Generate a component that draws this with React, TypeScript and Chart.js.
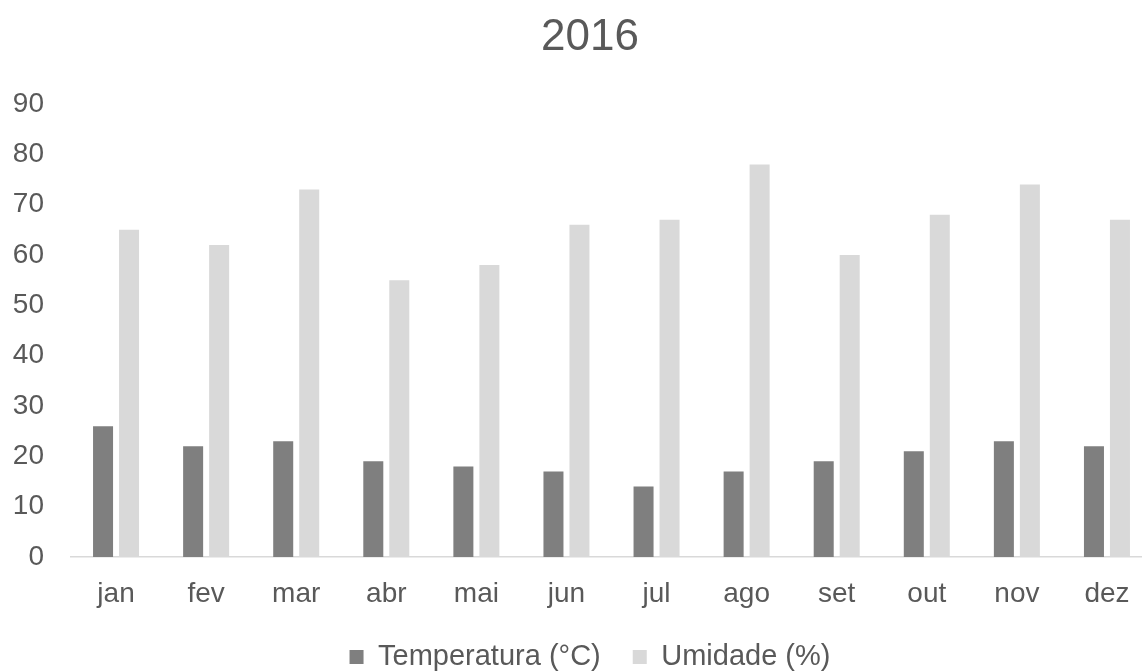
import React, { useEffect, useRef } from "react";
import { Chart, registerables } from "chart.js";

Chart.register(...registerables);

const months = ["jan", "fev", "mar", "abr", "mai", "jun", "jul", "ago", "set", "out", "nov", "dez"];
const temperatura = [26, 22, 23, 19, 18, 17, 14, 17, 19, 21, 23, 22];
const umidade = [65, 62, 73, 55, 58, 66, 67, 78, 60, 68, 74, 67];
const yTicks = [0, 10, 20, 30, 40, 50, 60, 70, 80, 90];

const FONT = "'Liberation Sans', Arial, sans-serif";
const TEXT = "#595959";

export default function App() {
  const ref = useRef<HTMLCanvasElement | null>(null);

  useEffect(() => {
    if (!ref.current) return;
    const chart = new Chart(ref.current, {
      type: "bar",
      data: {
        labels: months,
        datasets: [
          {
            label: "Temperatura (°C)",
            data: temperatura,
            backgroundColor: "#7f7f7f",
            borderColor: "#7f7f7f",
            borderWidth: 0,
            categoryPercentage: 0.577,
            barPercentage: 0.77,
          },
          {
            label: "Umidade (%)",
            data: umidade,
            backgroundColor: "#d9d9d9",
            borderColor: "#d9d9d9",
            borderWidth: 0,
            categoryPercentage: 0.577,
            barPercentage: 0.77,
          },
        ],
      },
      options: {
        animation: false,
        responsive: true,
        maintainAspectRatio: false,
        layout: { padding: { top: 0, left: 0, right: 0, bottom: -10.6 } },
        plugins: {
          title: {
            display: true,
            text: "2016",
            color: TEXT,
            font: { family: FONT, size: 44, weight: "normal" },
            padding: { top: 11, bottom: 40.2 },
          },
          legend: {
            position: "bottom",
            labels: {
              color: TEXT,
              font: { family: FONT, size: 29 },
              boxWidth: 14,
              boxHeight: 14,
              padding: 32,
            },
          },
          tooltip: { enabled: false },
        },
        scales: {
          x: {
            grid: { display: false, drawTicks: false },
            border: { display: true, color: "#d9d9d9", width: 1.5 },
            ticks: { color: TEXT, font: { family: FONT, size: 28 }, padding: 20 },
            afterFit: (s: any) => {
              s.height = 53.6;
            },
          },
          y: {
            min: 0,
            max: 90,
            afterBuildTicks: (s: any) => {
              s.ticks = yTicks.map((v) => ({ value: v }));
            },
            afterFit: (s: any) => {
              s.width = 71;
            },
            grid: { display: false, drawTicks: false },
            border: { display: false },
            ticks: { color: TEXT, font: { family: FONT, size: 28 }, padding: 27 },
          },
          yRight: {
            position: "right",
            display: true,
            grid: { display: false, drawTicks: false },
            border: { display: false },
            ticks: { display: false },
            afterFit: (s: any) => {
              s.width = 28;
            },
          },
        },
      },
    });
    return () => chart.destroy();
  }, []);

  return (
    <div
      style={{
        position: "fixed",
        left: 0,
        top: 0,
        width: 1142,
        height: 671,
        overflow: "hidden",
        background: "#ffffff",
      }}
    >
      <div style={{ position: "relative", width: 1180, height: 671 }}>
        <canvas ref={ref} />
      </div>
    </div>
  );
}
